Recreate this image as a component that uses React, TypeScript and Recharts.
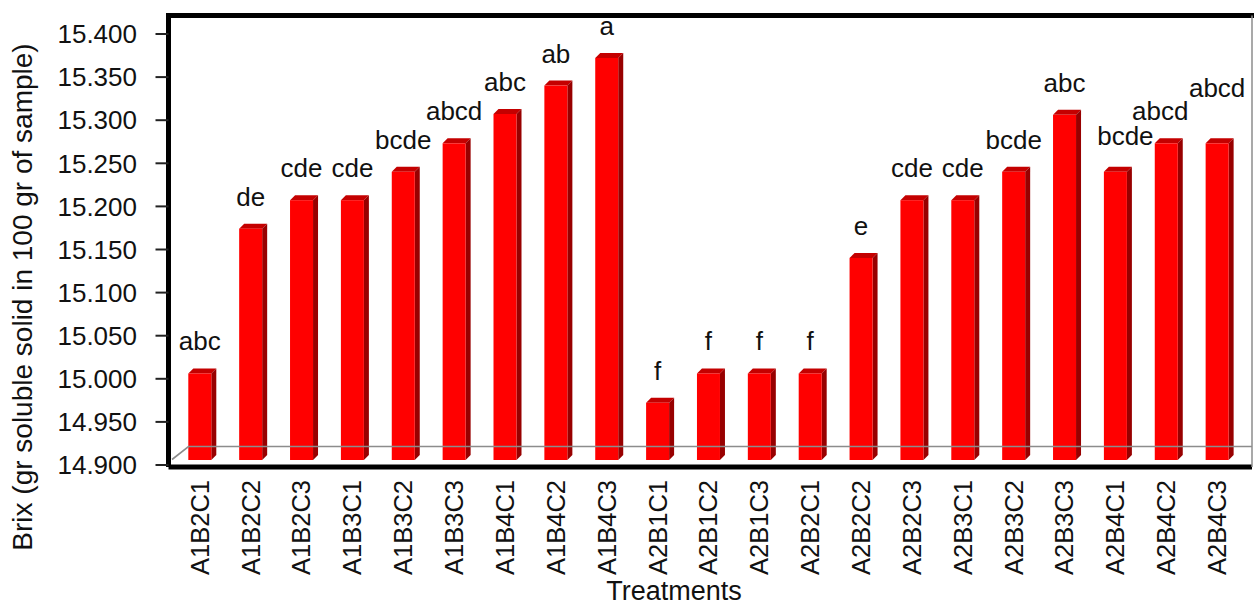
import React from 'react';
import { BarChart, Bar, XAxis, YAxis, ReferenceLine, LabelList, Label } from 'recharts';

const treatments = [
  'A1B2C1', 'A1B2C2', 'A1B2C3', 'A1B3C1', 'A1B3C2', 'A1B3C3', 'A1B4C1', 'A1B4C2', 'A1B4C3',
  'A2B1C1', 'A2B1C2', 'A2B1C3', 'A2B2C1', 'A2B2C2', 'A2B2C3', 'A2B3C1', 'A2B3C2', 'A2B3C3',
  'A2B4C1', 'A2B4C2', 'A2B4C3',
];
const brix = [
  15.012, 15.180, 15.213, 15.213, 15.246, 15.279, 15.313, 15.346, 15.378,
  14.978, 15.012, 15.012, 15.012, 15.146, 15.213, 15.213, 15.246, 15.312,
  15.246, 15.279, 15.279,
];
const letters = [
  'abc', 'de', 'cde', 'cde', 'bcde', 'abcd', 'abc', 'ab', 'a',
  'f', 'f', 'f', 'f', 'e', 'cde', 'cde', 'bcde', 'abc',
  'bcde', 'abcd', 'abcd',
];
const yTicks = [14.9, 14.95, 15.0, 15.05, 15.1, 15.15, 15.2, 15.25, 15.3, 15.35, 15.4];

const data = treatments.map((t, i) => ({ name: t, brix: brix[i], letter: letters[i] }));

const FONT = 'Liberation Sans, Arial, Helvetica, sans-serif';
const DOMAIN: [number, number] = [14.89768, 15.42146];
const DEPTH = 5;

// label nudges to avoid overlaps (layout only)
const NUDGE: Record<number, [number, number]> = { 18: [10, -4], 19: [-6, 0], 20: [0, -23] };

const Bar3D = (props: any) => {
  const { x, y, width, height } = props;
  if (width == null || height == null) return null;
  const d = DEPTH;
  const fw = width - d;
  const ft = y + d;
  const fb = y + height - 7;
  return (
    <g>
      <polygon points={`${x},${ft} ${x + d},${y} ${x + fw + d},${y} ${x + fw},${ft}`} fill="#c40000" />
      <polygon points={`${x + fw},${ft} ${x + fw + d},${y} ${x + fw + d},${fb - d} ${x + fw},${fb}`} fill="#980000" />
      <rect x={x} y={ft} width={fw} height={fb - ft} fill="#ff0000" />
    </g>
  );
};

const renderLetter = (props: any) => {
  const { x, y, width, index, value } = props;
  const [dx, dy] = NUDGE[index] ?? [0, 0];
  const cx = x + (width - DEPTH) / 2 + dx;
  return (
    <text x={cx} y={y - 18 + dy} textAnchor="middle" fontSize={26} fill="#111" fontFamily={FONT}>
      {value}
    </text>
  );
};

const CatTick = (props: any) => {
  const { x, y, payload } = props;
  const tx = x - 3;
  return (
    <text
      transform={`rotate(-90, ${tx}, ${y})`}
      x={tx}
      y={y}
      textAnchor="end"
      dominantBaseline="central"
      fontSize={25.5}
      fill="#111"
      fontFamily={FONT}
    >
      {payload.value}
    </text>
  );
};

const Floor = (props: any) => {
  const { x1, y1, x2 } = props;
  return (
    <path
      d={`M ${x1 + 3.5} ${y1 - 5.5} L ${x1 + 20} ${y1 - 18.5} L ${x2} ${y1 - 18.5}`}
      stroke="#8c8c8c"
      strokeWidth={1.6}
      fill="none"
    />
  );
};

const TopBorder = (props: any) => {
  const { x1, y1, x2 } = props;
  return <line x1={x1 - 2.5} y1={y1} x2={x2 + 2} y2={y1} stroke="#000" strokeWidth={5} />;
};

export default function App() {
  return (
    <div style={{ position: 'absolute', left: 0, top: 0, width: 1254, height: 606, background: '#fff' }}>
      <BarChart width={1254} height={606} data={data} margin={{ top: 15.5, right: 0, bottom: 0, left: 0 }}>
        <XAxis
          dataKey="name"
          height={139}
          interval={0}
          tickSize={0}
          tickMargin={13}
          tickLine={false}
          tick={<CatTick />}
          padding={{ left: 8.8, right: 6.5 }}
          axisLine={{ stroke: '#000', strokeWidth: 5 }}
        >
          <Label
            content={() => (
              <text x={674} y={600} textAnchor="middle" fontSize={27} fill="#111" fontFamily={FONT}>
                Treatments
              </text>
            )}
          />
        </XAxis>
        <YAxis
          width={168.5}
          domain={DOMAIN}
          allowDataOverflow
          ticks={yTicks}
          interval={0}
          tickSize={13}
          tickMargin={18.5}
          tickFormatter={(v: number) => v.toFixed(3)}
          tick={{ fontSize: 26, fill: '#111', fontFamily: FONT }}
          tickLine={{ stroke: '#222', strokeWidth: 2 }}
          axisLine={{ stroke: '#000', strokeWidth: 5 }}
        >
          <Label
            content={() => (
              <text
                x={22}
                y={297}
                transform="rotate(-90, 22, 297)"
                textAnchor="middle"
                dominantBaseline="central"
                fontSize={28}
                fill="#111"
                fontFamily={FONT}
              >
                Brix (gr soluble solid in 100 gr of sample)
              </text>
            )}
          />
        </YAxis>
        <YAxis
          yAxisId="right"
          orientation="right"
          width={2}
          domain={DOMAIN}
          allowDataOverflow
          tick={false}
          tickLine={false}
          axisLine={{ stroke: '#8c8c8c', strokeWidth: 1.5 }}
        />
        <ReferenceLine y={14.9} shape={<Floor />} />
        <ReferenceLine y={DOMAIN[1]} ifOverflow="visible" shape={<TopBorder />} />
        <Bar dataKey="brix" barSize={28} shape={<Bar3D />} isAnimationActive={false}>
          <LabelList dataKey="letter" content={renderLetter} />
        </Bar>
      </BarChart>
    </div>
  );
}
